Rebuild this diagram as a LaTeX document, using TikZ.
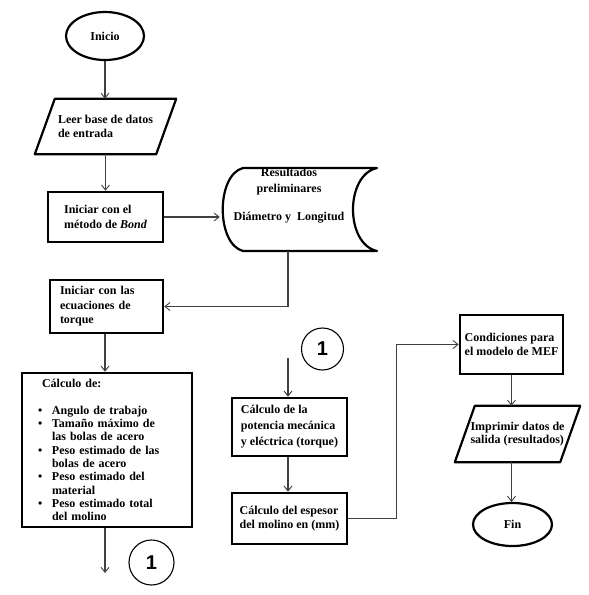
\documentclass[tikz,border=0pt]{standalone}
\usepackage{fontspec}
\setmainfont{Liberation Serif}
\setsansfont{Liberation Sans}
\usetikzlibrary{shapes.geometric,arrows.meta,calc}
\begin{document}
\begin{tikzpicture}[x=1pt,y=-1pt,
  txtfont/.style={font=\bfseries\fontsize{12}{#1}\selectfont},
  box/.style={draw, line width=2.6pt, rectangle, align=left, inner sep=0pt, txtfont=14.5},
  plain/.style={rectangle, align=left, inner sep=0pt, txtfont=14.5},
  term/.style={draw, ellipse, line width=2.2pt, inner sep=0pt, txtfont=13},
  outline/.style={line width=2.2pt, line join=round},
  conn/.style={draw, circle, line width=1.1pt, inner sep=0pt, font=\sffamily\bfseries\fontsize{20}{22}\selectfont},
  arr/.style={draw=black!75, line width=1.1pt, -{Straight Barb[length=5pt,width=8pt,line width=0.9pt]}},
  link/.style={draw=black!75, line width=1.1pt}]
\useasboundingbox (0,0) rectangle (589,595);

% terminals
\node[term, minimum width=78, minimum height=48] (inicio) at (105,36) {Inicio};
\node[term, minimum width=79, minimum height=43] (fin) at (512.5,524.5) {Fin};

% input parallelogram
\node[plain, minimum width=141, minimum height=55] (leer) at (105.5,126.5) {Leer base de datos\\de entrada};
\draw[outline] ($(leer.north west)+(20,0)$) -- (leer.north east) -- ($(leer.south east)+(-20,0)$) -- (leer.south west) -- cycle;

% process boxes
\node[box, minimum width=115, minimum height=50] (bond) at (105.5,217) {Iniciar con el\\método de \textit{Bond}};
\node[box, text width=93, inner xsep=10pt, minimum height=53] (ecu) at (106.5,306.5) {Iniciar con las\\ecuaciones de\\torque};
\node[box, text width=138, inner xsep=16pt, minimum height=154, txtfont=13.3] (calc) at (107,450)
 {\hspace*{4pt}Cálculo de:\\[13.3pt]
  \makebox[14pt][l]{\textbullet}Angulo de trabajo\\
  \makebox[14pt][l]{\textbullet}Tamaño máximo de\\
  \hspace*{14pt}las bolas de acero\\
  \makebox[14pt][l]{\textbullet}Peso estimado de las\\
  \hspace*{14pt}bolas de acero\\
  \makebox[14pt][l]{\textbullet}Peso estimado del\\
  \hspace*{14pt}material\\
  \makebox[14pt][l]{\textbullet}Peso estimado total\\
  \hspace*{14pt}del molino};
\node[box, minimum width=115, minimum height=58, txtfont=16] (pot) at (289.5,427) {Cálculo de la\\potencia mecánica\\y eléctrica (torque)};
\node[box, minimum width=115, minimum height=51] (esp) at (289.5,518.5) {Cálculo del espesor\\del molino en (mm)};
\node[box, minimum width=103, minimum height=59] (cond) at (511.5,344.5) {Condiciones para\\el modelo de MEF};

% output parallelogram
\node[plain, minimum width=125, minimum height=56, txtfont=13.5] (impr) at (517.5,434) {Imprimir datos de\\salida (resultados)};
\draw[outline] ($(impr.north west)+(20,0)$) -- (impr.north east) -- ($(impr.south east)+(-20,0)$) -- (impr.south west) -- cycle;

% stored data shape
\node[minimum width=157, minimum height=83, inner sep=0pt] (data) at (298.5,209.5) {};
\draw[outline] (243,168) -- (377,168) .. controls (345,175) and (345,244) .. (377,251)
  -- (243,251) .. controls (216,244) and (216,175) .. (243,168) -- cycle;
\node[plain, align=center, txtfont=16] (datatxt) at (289,196) {Resultados\\preliminares\\[12pt]Diámetro y\ \ Longitud};

% connectors (off-page)
\node[conn, minimum size=45] (c1a) at (151.5,562.5) {1};
\node[conn, minimum size=42] (c1b) at (322.5,349) {1};
\coordinate (e1) at (105,573);
\coordinate (s1) at (288,358);

% connectors
\draw[arr] (inicio.south) -- (inicio.south |- leer.north);
\draw[arr] (leer.south) -- (leer.south |- bond.north);
\draw[arr] (bond.east) -- (bond.east -| data.west);
\draw[arr] ([xshift=-10.5pt]data.south) |- (ecu.east);
\draw[arr] (ecu.south -| e1) -- (e1 |- calc.north);
\draw[arr] (calc.south -| e1) -- (e1);
\draw[arr] (s1) -- (s1 |- pot.north);
\draw[arr] (pot.south -| s1) -- (s1 |- esp.north);
\draw[arr] (esp.east) -- ++(48,0) |- (cond.west);
\draw[arr] (cond.south) -- (cond.south |- impr.north);
\draw[arr] (impr.south -| cond.south) -- (cond.south |- fin.north);
\end{tikzpicture}
\end{document}
